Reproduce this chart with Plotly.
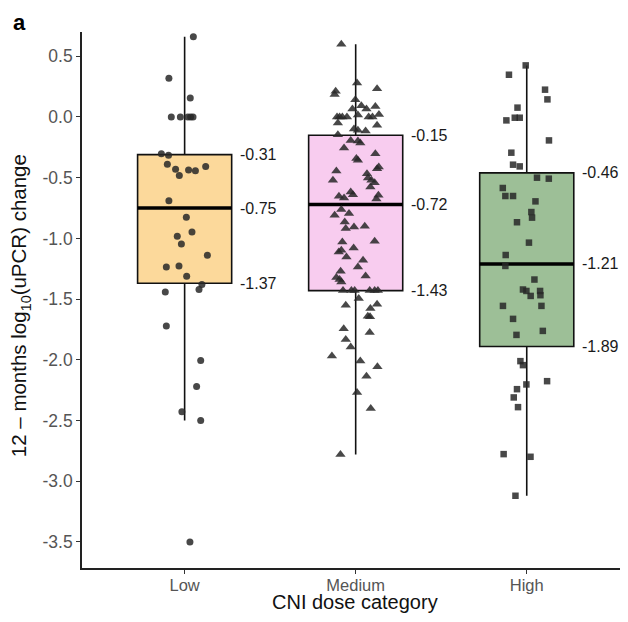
import plotly.graph_objects as go

# ---------------- data ----------------
categories = ["Low", "Medium", "High"]
cat_pos = [1, 2, 3]

q1 = [-1.37, -1.43, -1.89]
median = [-0.75, -0.72, -1.21]
q3 = [-0.31, -0.15, -0.46]
lower_whisker = [-2.50, -2.78, -3.12]
upper_whisker = [0.66, 0.60, 0.425]

low_vals = [0.66, 0.32, 0.156, 0.0, 0.0, 0.0, 0.0, 0.0, -0.302, -0.316, -0.39, -0.431,
            -0.481, -0.437, -0.442, -0.407, -0.689, -0.826, -0.947, -0.983, -1.046,
            -1.139, -1.235, -1.227, -1.312, -1.38, -1.421, -1.441, -1.721, -2.006,
            -2.22, -2.429, -2.50, -3.50]
low_jit = [0.051, -0.092, 0.033, -0.078, -0.025, 0.019, 0.035, 0.049, -0.136, -0.094,
           -0.101, -0.053, -0.031, 0.023, 0.063, 0.123, -0.092, 0.010, 0.043, -0.043,
           -0.019, 0.133, -0.107, -0.033, 0.012, 0.101, 0.084, -0.113, -0.107, 0.094,
           0.070, -0.016, 0.094, 0.031]

med_vals = [0.60, 0.279, 0.233, 0.211, 0.186, 0.142, 0.065, 0.093, 0.065, 0.087,
            0.0, 0.0, 0.0, 0.0, 0.016, 0.0, 0.0, 0.021, -0.05, -0.069,
            -0.10, -0.11, -0.116, -0.146, -0.193, -0.198, -0.215, -0.256, -0.343, -0.357,
            -0.302, -0.412, -0.426, -0.445, -0.467, -0.503, -0.522, -0.541, -0.522, -0.577,
            -0.618, -0.64, -0.653, -0.667, -0.645, -0.676, -0.763, -0.81, -0.796, -0.865,
            -0.919, -0.906, -0.90, -1.03, -1.024, -1.112, -1.098, -1.153, -1.079, -1.18,
            -1.235, -1.271, -1.323, -1.339, -1.359, -1.309, -1.43, -1.43, -1.43, -1.43,
            -1.43, -1.43, -1.495, -1.551, -1.578, -1.542, -1.641, -1.646, -1.744, -1.775,
            -1.833, -1.894, -1.968, -2.009, -2.058, -2.135, -2.269, -2.401, -2.78]
med_jit = [-0.084, 0.008, 0.125, -0.117, -0.123, -0.002, -0.019, 0.033, 0.063, 0.115,
           -0.109, -0.094, -0.078, -0.051, 0.013, 0.076, 0.098, 0.136, -0.104, 0.125,
           -0.010, 0.013, 0.058, -0.104, -0.029, 0.013, 0.027, -0.068, 0.004, 0.013,
           0.115, 0.135, 0.125, -0.113, 0.066, 0.072, 0.092, 0.111, -0.133, 0.086,
           -0.029, -0.016, -0.098, -0.068, 0.133, 0.121, -0.084, -0.123, -0.039, -0.064,
           -0.058, -0.010, 0.053, -0.078, 0.111, -0.099, -0.084, -0.054, -0.012, 0.043,
           0.013, -0.088, -0.113, -0.094, -0.084, 0.058, -0.074, -0.025, -0.006, 0.082,
           0.111, 0.130, 0.018, -0.058, 0.086, 0.125, 0.071, 0.084, -0.070, 0.082,
           -0.058, -0.029, -0.139, 0.027, 0.127, 0.063, 0.008, 0.088, -0.089]

high_vals = [0.425, 0.348, 0.225, 0.145, 0.077, -0.028, -0.006, -0.006, -0.193, -0.294,
             -0.393, -0.407, -0.50, -0.508, -0.585, -0.651, -0.651, -0.695, -0.783, -0.829,
             -0.867, -1.035, -1.137, -1.227, -1.339, -1.421, -1.433, -1.474, -1.433, -1.468,
             -1.556, -1.556, -1.663, -1.795, -1.762, -2.011, -2.044, -2.203, -2.176, -2.242,
             -2.31, -2.39, -2.777, -2.799, -3.12]
high_jit = [-0.006, -0.104, 0.107, 0.121, -0.054, -0.119, -0.070, -0.041, 0.130, -0.090,
            -0.080, -0.041, 0.060, 0.129, -0.140, -0.125, -0.080, 0.051, 0.027, 0.031,
            -0.057, 0.013, -0.123, -0.125, 0.045, -0.022, -0.002, 0.023, 0.078, 0.080,
            -0.139, 0.086, -0.080, -0.060, 0.094, -0.037, -0.022, -0.002, 0.119, -0.057,
            -0.076, -0.051, -0.135, 0.022, -0.066]

y_tick_vals = [0.5, 0.0, -0.5, -1.0, -1.5, -2.0, -2.5, -3.0, -3.5]
y_tick_text = ["0.5", "0.0", "-0.5", "-1.0", "-1.5", "-2.0", "-2.5", "-3.0", "-3.5"]

x_title = "CNI dose category"
y_title = "12 \u2013 months log<sub>10</sub>(uPCR) change"
panel_label = "a"

# ---------------- styles ----------------
fills = ["#FCD99B", "#F8CCEF", "#9DBF97"]
symbols = ["circle", "triangle-up", "square"]
sizes = [7, 9, 6.5]
BOX_W = 0.55
FONT = "Liberation Sans, Arial, sans-serif"
PT_COLOR = "rgba(40,40,40,0.85)"

fig = go.Figure()

for i in range(3):
    fig.add_trace(go.Box(
        x=[cat_pos[i]], q1=[q1[i]], median=[median[i]], q3=[q3[i]],
        lowerfence=[lower_whisker[i]], upperfence=[upper_whisker[i]],
        width=BOX_W, fillcolor=fills[i], line=dict(color="#111111", width=1.6),
        whiskerwidth=0, boxpoints=False, showlegend=False, hoverinfo="skip"))
    fig.add_trace(go.Scatter(
        x=[cat_pos[i] - BOX_W / 2, cat_pos[i] + BOX_W / 2], y=[median[i], median[i]],
        mode="lines", line=dict(color="black", width=3.5), showlegend=False,
        hoverinfo="skip"))

groups = [(low_vals, low_jit), (med_vals, med_jit), (high_vals, high_jit)]
for i, (vals, jit) in enumerate(groups):
    fig.add_trace(go.Scatter(
        x=[cat_pos[i] + j for j in jit], y=vals, mode="markers",
        marker=dict(symbol=symbols[i], size=sizes[i], color=PT_COLOR,
                    line=dict(width=0)),
        showlegend=False, hoverinfo="skip"))

annotations = []
for i in range(3):
    for v in (q3[i], median[i], q1[i]):
        annotations.append(dict(
            x=cat_pos[i] + BOX_W / 2 + 0.036, y=v, xref="x", yref="y",
            text=f"{v:.2f}", showarrow=False, xanchor="left", yanchor="middle",
            font=dict(size=16, color="#1a1a1a", family=FONT)))

annotations.append(dict(
    x=0.5, y=-0.064, xref="paper", yref="paper", text=x_title, showarrow=False,
    xanchor="center", yanchor="middle",
    font=dict(size=20, color="#111111", family=FONT)))
annotations.append(dict(
    x=-0.112, y=0.49, xref="paper", yref="paper", text=y_title, showarrow=False,
    textangle=-90, xanchor="center", yanchor="middle",
    font=dict(size=20.5, color="#111111", family=FONT)))
annotations.append(dict(
    x=-0.115, y=1.044, xref="paper", yref="paper", text=f"<b>{panel_label}</b>",
    showarrow=False, xanchor="center", yanchor="top",
    font=dict(size=22, color="black", family=FONT)))

# the page body adds an 8px margin; size the figure so the page does not scroll
fig.update_layout(
    width=620, height=606,
    margin=dict(l=74, r=0, t=24, b=46, autoexpand=False),
    paper_bgcolor="white", plot_bgcolor="white",
    font=dict(family=FONT, color="#4d4d4d"),
    boxmode="overlay",
    xaxis=dict(
        range=[0.4, 3.592], tickvals=cat_pos, ticktext=categories,
        showline=True, linecolor="#222222", linewidth=1.6,
        ticks="outside", ticklen=4, tickcolor="#333333", tickwidth=1.2,
        tickfont=dict(size=16.5, color="#555555"), automargin=False,
        ticklabelstandoff=-3,
        showgrid=False, zeroline=False),
    yaxis=dict(
        range=[-3.715, 0.70], tickvals=y_tick_vals, ticktext=y_tick_text,
        showline=True, linecolor="#222222", linewidth=1.6,
        ticks="outside", ticklen=4, tickcolor="#333333", tickwidth=1.2,
        tickfont=dict(size=17.5, color="#555555"), automargin=False,
        showgrid=False, zeroline=False),
    annotations=annotations,
)

fig.write_html("out.html")
